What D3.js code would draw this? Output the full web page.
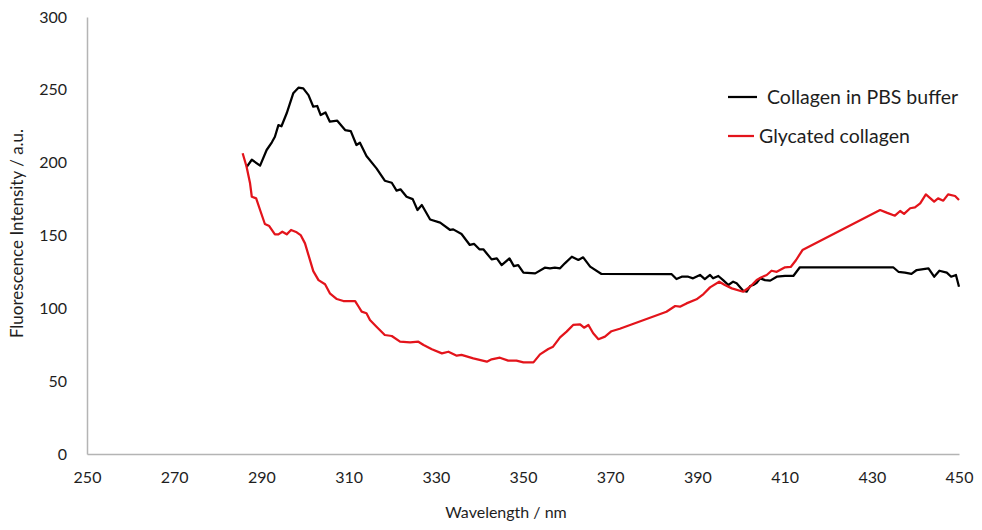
<!DOCTYPE html>
<html>
<head>
    <meta charset="utf-8">
    <title>Fluorescence spectra</title>
    <script src="https://d3js.org/d3.v7.min.js"></script>
    <style>
        html, body { margin: 0; padding: 0; background: #fff; }
        svg text { font-family: Lato, "Open Sans", sans-serif; fill: #1e1e1e; }
        .axis path { stroke: #b4b4b4; stroke-width: 1.5; }
        .axis line { display: none; }
        .axis text { font-size: 16px; }
    </style>
</head>
<body>
<svg id="chart"></svg>
<script>
    // ticks
    var xTicks = [250, 270, 290, 310, 330, 350, 370, 390, 410, 430, 450];
    var yTicks = [0, 50, 100, 150, 200, 250, 300];

    // Collagen in PBS buffer
    var pbsWl = [286.6, 287.8, 289.7, 291.2, 292.4, 293.1, 293.9, 294.6, 295.8, 297.3, 298.5, 299.6,
        300.8, 301.9, 302.8, 303.6, 304.7, 305.7, 307.4, 309.2, 310.5, 311.8, 312.6, 314.1, 316.4,
        318.3, 319.9, 321, 321.9, 323.3, 324.7, 325.8, 326.8, 328.7, 331, 333.3, 334, 335.9, 337.8,
        338.8, 340, 340.9, 342.8, 344, 345.1, 346.9, 347.9, 348.9, 350.1, 352.8, 355, 356.2, 357.3,
        358.5, 359.6, 361.2, 362.7, 363.8, 365.4, 368, 384.1, 385.2, 386.4, 387.9, 389, 390.6, 391.7,
        392.9, 393.6, 394.8, 395.9, 397.1, 398.2, 399, 400.5, 401.3, 402.1, 402.8, 403.6, 404.4, 405.5,
        406.7, 408.2, 410.1, 412, 413.5, 434.9, 436.1, 437.6, 439.1, 440.3, 443, 444.3, 445.5, 447.2,
        448.2, 449.3, 450];
    var pbsVal = [197, 202, 198, 208.7, 214, 217.8, 225.8, 225, 233.9, 247.6, 251.5, 251,
        246.4, 238.4, 238.9, 232.7, 234.5, 228.1, 228.8, 222.4, 221.7, 212.1, 213.7, 204.6, 196.1,
        187.6, 186.2, 180.8, 181.7, 176.6, 175, 167.5, 170.9, 161, 158.8, 153.8, 154.2, 151, 143.5,
        144.2, 140.5, 140.5, 133.6, 134.3, 129.7, 134.3, 129, 129.7, 124.5, 124, 127.9, 127.5, 127.9,
        127.5, 130.9, 135.4, 133.2, 135, 128.6, 123.6, 123.4, 120.1, 121.7, 121.7, 120.6, 122.9, 120.1,
        122.9, 120.6, 122.2, 119.4, 116, 118.3, 117.2, 112.1, 111.4, 115.3, 116, 117.6, 120.6, 119.4,
        119, 121.7, 122.2, 122.2, 128.2, 128.2, 125.1, 124.5, 123.6, 126.3, 127.5, 121.7, 125.8, 124.5,
        121.7, 122.9, 114.8];

    // Glycated collagen
    var glyWl = [285.7, 286.6, 287.4, 287.8, 288.8, 289.7, 290.8, 291.8, 293.1, 293.9, 294.8, 295.8,
        296.8, 298.1, 299, 300, 301.9, 303.1, 304.6, 305.7, 307.3, 308.8, 311.5, 312.2, 313, 314.1,
        314.9, 316.4, 318.3, 319.9, 321.8, 324.1, 326, 327.2, 329.1, 331.4, 332.9, 334.8, 335.9, 338.6,
        341.7, 342.8, 344.7, 346.6, 348.5, 350.1, 352.4, 353.9, 355.8, 356.9, 358.5, 360, 361.5, 363.1,
        364, 365, 366.1, 367.3, 368.8, 370.3, 372.2, 382.9, 384.9, 386, 387.5, 389.8, 391.4, 392.9,
        395, 396.3, 397.9, 400.5, 402.1, 403.6, 404.7, 405.9, 407, 408.2, 410.1, 411.4, 412.6, 414.1,
        431.9, 433.4, 435.3, 436.5, 437.4, 438.8, 439.9, 441.1, 442.4, 444.3, 445.2, 446.4, 447.5,
        449.1, 450];
    var glyVal = [206.5, 197.2, 185.8, 176.6, 175.5, 167.5, 157.9, 156.5, 150.8, 150.8, 152.6, 150.8,
        153.8, 152.2, 150.3, 144.6, 125.5, 119.4, 116.5, 110.3, 106.4, 105, 105, 101.6, 97.7, 96.6,
        92, 87.4, 81.7, 81, 77.1, 76.7, 77.1, 74.8, 71.9, 69.1, 70.2, 67.5, 68, 65.7,
        63.4, 65, 66.1, 64.1, 64.1, 62.9, 62.9, 68.4, 72.1, 73.7, 80.1, 84, 88.6, 89,
        86.7, 88.6, 82.9, 78.8, 80.6, 84.3, 86, 97.7, 101.6, 101.1, 103.4, 106.2, 109.8, 114.4,
        118.3, 116, 113.7, 111.4, 114.8, 119.4, 121.3, 122.9, 125.8, 125.1, 128.2, 128.4, 133, 140,
        167.5, 165.7, 163.6, 166.8, 164.8, 168.7, 169.3, 172.1, 178.2, 173.2, 175.5, 173.9, 178.2,
        177.1, 174.4];

    var width = 982, height = 530;
    var margin = { top: 17, right: 23, bottom: 76, left: 87 };

    var svg = d3.select("#chart").attr("width", width).attr("height", height);

    var x = d3.scaleLinear().domain([250, 450]).range([margin.left, width - margin.right]);
    var y = d3.scaleLinear().domain([0, 300]).range([height - margin.bottom, margin.top]);

    // axes
    svg.append("g").attr("class", "axis")
        .attr("transform", "translate(0," + y(0) + ")")
        .call(d3.axisBottom(x).tickValues(xTicks).tickSize(0).tickSizeOuter(0).tickPadding(18).tickFormat(d3.format("d")));

    svg.append("g").attr("class", "axis")
        .attr("transform", "translate(" + x(250) + ",0)")
        .call(d3.axisLeft(y).tickValues(yTicks).tickSize(0).tickSizeOuter(0).tickPadding(20).tickFormat(d3.format("d")));

    // axis titles
    svg.append("text")
        .attr("x", 506)
        .attr("y", 518)
        .attr("text-anchor", "middle")
        .style("font-size", "16px")
        .text("Wavelength / nm");

    svg.append("text")
        .attr("transform", "translate(23," + (y(150) - 2) + ") rotate(-90)")
        .attr("text-anchor", "middle")
        .style("font-size", "17px")
        .text("Fluorescence Intensity / a.u.");

    // lines
    var line = d3.line()
        .x(function (d) { return x(d[0]); })
        .y(function (d) { return y(d[1]); })
        .curve(d3.curveLinear);

    var series = [
        { name: "Collagen in PBS buffer", color: "#000000", pts: d3.zip(pbsWl, pbsVal) },
        { name: "Glycated collagen", color: "#e3141b", pts: d3.zip(glyWl, glyVal) }
    ];

    svg.selectAll(".series")
        .data(series)
        .enter().append("path")
        .attr("class", "series")
        .attr("fill", "none")
        .attr("stroke", function (d) { return d.color; })
        .attr("stroke-width", 2.25)
        .attr("stroke-linejoin", "round")
        .attr("d", function (d) { return line(d.pts); });

    // legend
    var legend = svg.append("g");
    var legendY = [97, 136];
    var textX = [767, 759];
    series.forEach(function (s, i) {
        legend.append("line")
            .attr("x1", 728).attr("x2", i === 0 ? 757 : 754)
            .attr("y1", legendY[i]).attr("y2", legendY[i])
            .attr("stroke", s.color).attr("stroke-width", 2.25);
        legend.append("text")
            .attr("x", textX[i]).attr("y", legendY[i])
            .attr("dy", "0.35em")
            .style("font-size", "19.5px")
            .text(s.name);
    });
</script>
</body>
</html>
